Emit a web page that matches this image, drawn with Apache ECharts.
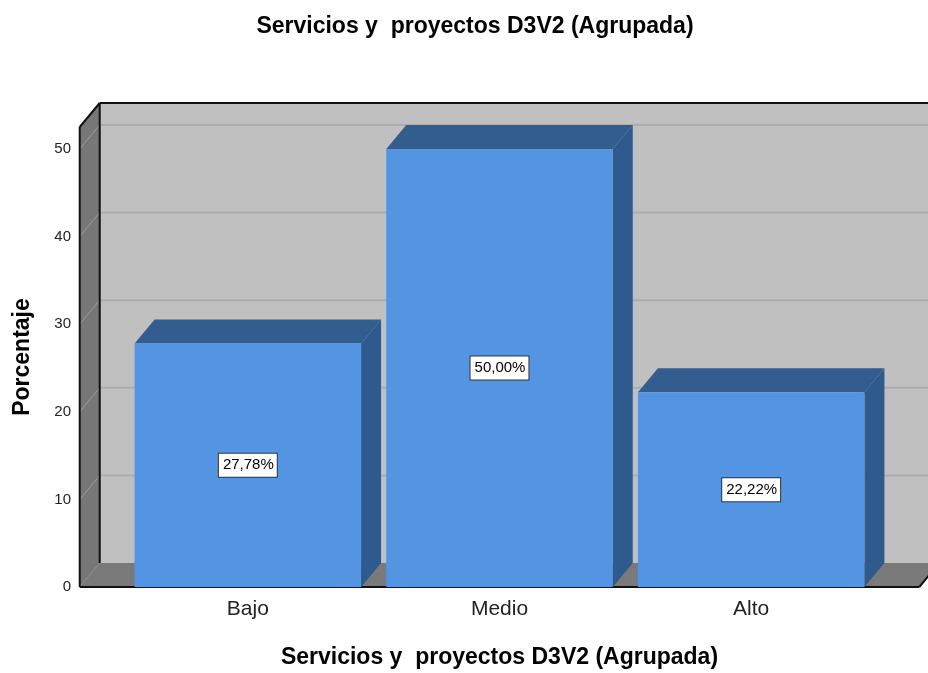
<!DOCTYPE html>
<html><head><meta charset="utf-8">
<script src="https://cdn.jsdelivr.net/npm/echarts@6/dist/echarts.min.js"></script>
<style>html,body{margin:0;padding:0;background:#fff}#c{width:928px;height:673px}</style>
</head><body><div id="c"></div>
<script>
const categories = ['Bajo', 'Medio', 'Alto'];
const percentages = [27.78, 50.00, 22.22];
const yTicks = [0, 10, 20, 30, 40, 50];
const chartTitle = 'Servicios y  proyectos D3V2 (Agrupada)';
const xAxisTitle = 'Servicios y  proyectos D3V2 (Agrupada)';
const yAxisTitle = 'Porcentaje';

const FONT = "'Liberation Sans', Arial, sans-serif";
const DX = 20, DY = -24;          // 3D depth offset
const Y_MAX = 52.5;
const SIDE_PAD = 0.168;           // wall extension beyond category band (in bands)
const BAR_RATIO = 0.9;

const chart = echarts.init(document.getElementById('c'), null, {renderer: 'canvas'});

function wallsRender(params, api) {
  const cs = params.coordSys;
  const bw = api.size([1, 0])[0];
  const xL = cs.x - SIDE_PAD * bw;
  const xR = cs.x + cs.width + SIDE_PAD * bw;
  const y0 = api.coord([0, 0])[1];
  const yT = api.coord([0, Y_MAX])[1];
  const ch = [];
  ch.push({type: 'polygon', shape: {points: [[xL + DX, yT + DY], [xR + DX + 40, yT + DY], [xR + DX + 40, y0 + DY], [xL + DX, y0 + DY]]},
    style: {fill: '#c0c0c0'}});
  ch.push({type: 'polygon', shape: {points: [[xL, yT], [xL + DX, yT + DY], [xL + DX, y0 + DY], [xL, y0]]},
    style: {fill: '#777777'}});
  yTicks.forEach(v => {
    const yy = api.coord([0, v])[1];
    if (v > 0) {
      ch.push({type: 'line', shape: {x1: xL + DX, y1: yy + DY, x2: xR + DX + 40, y2: yy + DY},
        style: {stroke: '#acacac', lineWidth: 2}});
    }
    ch.push({type: 'line', shape: {x1: xL, y1: yy, x2: xL + DX, y2: yy + DY},
      style: {stroke: '#9c9c9c', lineWidth: 1}});
  });
  ch.push({type: 'polygon', shape: {points: [[xL, y0], [xL + DX, y0 + DY], [xR + DX, y0 + DY], [xR, y0]]},
    style: {fill: '#7a7a7a'}});
  ch.push({type: 'polygon', shape: {points: [[xR, y0], [xR + DX, y0 + DY], [xR + DX + 40, y0 + DY], [xR + 40, y0]]},
    style: {fill: '#ffffff'}});
  const blk = {stroke: '#111', lineWidth: 2};
  ch.push({type: 'line', shape: {x1: xL, y1: yT, x2: xL, y2: y0}, style: blk});
  ch.push({type: 'line', shape: {x1: xL + DX, y1: yT + DY, x2: xL + DX, y2: y0 + DY}, style: blk});
  ch.push({type: 'line', shape: {x1: xL, y1: yT, x2: xL + DX, y2: yT + DY}, style: blk});
  ch.push({type: 'line', shape: {x1: xL + DX, y1: yT + DY, x2: xR + DX + 40, y2: yT + DY}, style: blk});
  ch.push({type: 'line', shape: {x1: xL, y1: y0, x2: xR, y2: y0}, style: blk});
  ch.push({type: 'line', shape: {x1: xR, y1: y0, x2: xR + DX, y2: y0 + DY}, style: blk});
  return {type: 'group', children: ch};
}

function barRender(params, api) {
  const idx = api.value(0);
  const val = api.value(1);
  const bw = api.size([1, 0])[0];
  const w = bw * BAR_RATIO;
  const top = api.coord([idx, val]);
  const base = api.coord([idx, 0]);
  const xl = top[0] - w / 2, xr = top[0] + w / 2;
  const yt = top[1], yb = base[1];
  const ch = [];
  ch.push({type: 'polygon', shape: {points: [[xr, yt], [xr + DX, yt + DY], [xr + DX, yb + DY], [xr, yb]]},
    style: {fill: '#2f5a8e'}});
  ch.push({type: 'polygon', shape: {points: [[xl, yt], [xl + DX, yt + DY], [xr + DX, yt + DY], [xr, yt]]},
    style: {fill: '#335c8f'}});
  ch.push({type: 'rect', shape: {x: xl, y: yt, width: w, height: yb - yt},
    style: {fill: '#5495e3'}});
  ch.push({type: 'text', x: top[0], y: (yt + yb) / 2,
    style: {text: val.toFixed(2).replace('.', ',') + '%', align: 'center', verticalAlign: 'middle',
      font: '15px ' + FONT, fill: '#000', backgroundColor: '#fff', borderColor: '#333', borderWidth: 1,
      padding: [4, 3, 4, 4]}});
  return {type: 'group', children: ch};
}

const option = {
  animation: false,
  backgroundColor: '#ffffff',
  graphic: [{type: 'text', x: 475, y: 27, style: {text: chartTitle, align: 'center', verticalAlign: 'middle',
    font: 'bold 23px ' + FONT, fill: '#000'}}],
  grid: {left: 122, right: 51, top: 127, bottom: 86, containLabel: false, outerBoundsMode: 'none'},
  xAxis: {
    type: 'category', data: categories,
    axisLine: {show: false}, axisTick: {show: false}, splitLine: {show: false},
    axisLabel: {fontSize: 21, color: '#222', fontFamily: FONT, margin: 12},
    name: xAxisTitle, nameLocation: 'middle', nameGap: 59,
    nameTextStyle: {fontSize: 23, fontWeight: 'bold', color: '#000', fontFamily: FONT}
  },
  yAxis: {
    type: 'value', min: 0, max: Y_MAX, interval: 10,
    axisLine: {show: false}, axisTick: {show: false}, splitLine: {show: false},
    axisLabel: {fontSize: 15, color: '#222', fontFamily: FONT, margin: 51,
      formatter: v => (yTicks.indexOf(v) >= 0 ? String(v) : '')},
    name: yAxisTitle, nameLocation: 'middle', nameGap: 88, nameRotate: 90,
    nameTextStyle: {fontSize: 23, fontWeight: 'bold', color: '#000', fontFamily: FONT}
  },
  series: [
    {type: 'custom', z: 1, renderItem: wallsRender, data: [[0, 0]], silent: true},
    {type: 'custom', z: 2, renderItem: barRender,
      data: percentages.map((v, i) => [i, v])}
  ]
};
chart.setOption(option);
</script></body></html>
